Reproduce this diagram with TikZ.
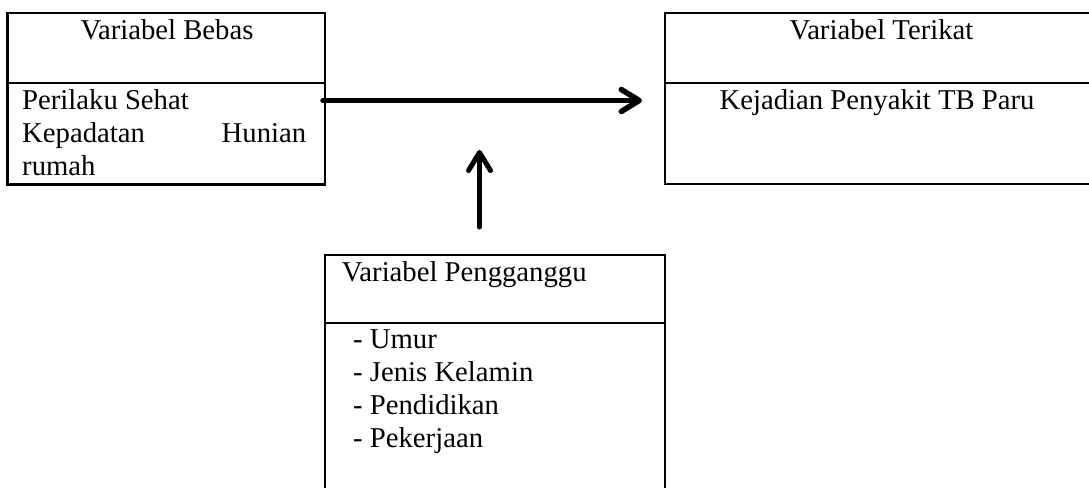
\documentclass[tikz,border=0pt]{standalone}
\usepackage{fontspec}
\setmainfont{Liberation Serif}
\usetikzlibrary{arrows.meta}
\begin{document}
\begin{tikzpicture}[x=1pt,y=-1pt,
  box/.style={draw=black,line width=2.4pt,inner sep=0pt,rectangle},
  txt/.style={inner sep=0pt,font=\fontsize{28.7}{33}\selectfont},
  divider/.style={draw=black,line width=2.4pt},
  arr/.style={draw=black,line width=5.5pt,line cap=round,
    -{Straight Barb[length=18pt,width=22pt,round]}}]
\useasboundingbox (0,0) rectangle (1089,487);
\clip (0,0) rectangle (1089,487);
% boxes
\node[box,minimum width=317.7pt,minimum height=171pt] (bebas) at (166.2,98.8) {};
\node[box,minimum width=433pt,minimum height=171pt] (terikat) at (881.5,98.7) {};
\node[box,minimum width=339.7pt,minimum height=245pt] (ganggu) at (494.9,377.5) {};
% dividers
\draw[divider] (bebas.west |- 0,82.7) -- (bebas.east |- 0,82.7);
\draw[divider] (terikat.west |- 0,82.7) -- (terikat.east |- 0,82.7);
\draw[divider] (ganggu.west |- 0,322.7) -- (ganggu.east |- 0,322.7);
% texts
\node[txt,anchor=base] (t1) at (167,40) {Variabel Bebas};
\node[txt,anchor=base west] (b1) at (22,109) {Perilaku Sehat};
\node[txt,anchor=base west] (b2) at (22,142) {\makebox[284pt][s]{Kepadatan Hunian}};
\node[txt,anchor=base west] (b3) at (22,175) {rumah};
\node[txt,anchor=base] (t2) at (881.5,40) {Variabel Terikat};
\node[txt,anchor=base] (k1) at (877,109) {Kejadian Penyakit TB Paru};
\node[txt,anchor=base west] (t3) at (341.7,281) {Variabel Pengganggu};
\node[txt,anchor=base west] (g1) at (353,348) {- Umur};
\node[txt,anchor=base west] (g2) at (353,381) {- Jenis Kelamin};
\node[txt,anchor=base west] (g3) at (353,414) {- Pendidikan};
\node[txt,anchor=base west] (g4) at (353,447) {- Pekerjaan};
% arrows
\coordinate (hs) at (323,100.5);
\coordinate (he) at (642,100.5);
\coordinate (vs) at (479.5,227);
\coordinate (ve) at (479.5,150);
\draw[arr] (hs) -- (he);
\draw[arr,line width=5pt] (vs) -- (ve);
\end{tikzpicture}
\end{document}
